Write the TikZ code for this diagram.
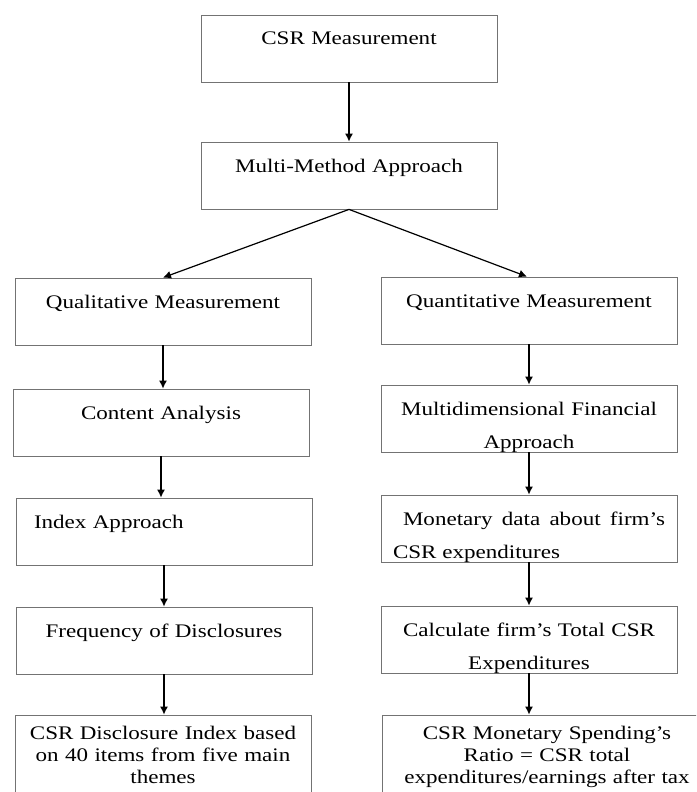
\documentclass[tikz,border=0pt]{standalone}
\usepackage{fontspec}
\setmainfont{Liberation Serif}[FakeStretch=1.2]
\usetikzlibrary{arrows.meta,positioning,calc}

\begin{document}
\begin{tikzpicture}[x=1pt,y=1pt,
    box/.style={draw=black!55, line width=0.8pt, inner xsep=12pt, inner ysep=0pt,
        text width=272pt, text height=30pt, text depth=37pt, align=center,
        font=\fontsize{19.2}{33.5}\selectfont},
    lastbox/.style={box, text height=24pt, text depth=90pt,
        font=\fontsize{19.2}{22}\selectfont},
    arr/.style={-{Latex[length=8pt,width=8pt]}, line width=1.2pt}]
    \useasboundingbox (0,0) rectangle (696,-792);
    \clip (0,0) rectangle (696,-792);
    % top
    \node[box] (csr) at (349,-48.5) {CSR Measurement};
    \node[box] (mm) at (349,-175.5) {Multi-Method Approach};
    % qualitative side
    \node[box] (qual) at (163,-311.5) {Qualitative Measurement};
    \node[box] (ca) at (161,-422.5) {Content Analysis};
    \node[box, align=left] (idx) at (164,-531.5) {\hspace*{6pt}Index Approach};
    \node[box] (freq) at (164,-640.5) {Frequency of Disclosures};
    \node[lastbox] (cdi) at (163,-772) {CSR Disclosure Index based\\on 40 items from five main\\themes};
    % quantitative side
    \node[box] (quant) at (529,-310.5) {Quantitative Measurement};
    \node[box] (mdf) at (529,-418.5) {Multidimensional Financial\\Approach};
    \node[box, align=justify] (mon) at (529,-528.5) {\hspace*{10pt}Monetary data about firm's CSR expenditures};
    \node[box] (calc) at (529,-639.5) {Calculate firm's Total CSR\\Expenditures};
    \node[lastbox, text width=306pt] (msr) at (547,-772) {CSR Monetary Spending's\\Ratio = CSR total\\expenditures/earnings after tax};

    \draw[arr] (csr) -- (mm);
    \draw[arr] (mm.south) -- (qual.north);
    \draw[arr] (mm.south) -- ([xshift=-2pt]quant.north);
    \foreach \a/\b in {qual/ca, ca/idx, idx/freq, freq/cdi, quant/mdf, mdf/mon, mon/calc, calc/msr}
        \draw[arr] (\a.south) -- (\a.south |- \b.north);
\end{tikzpicture}
\end{document}
